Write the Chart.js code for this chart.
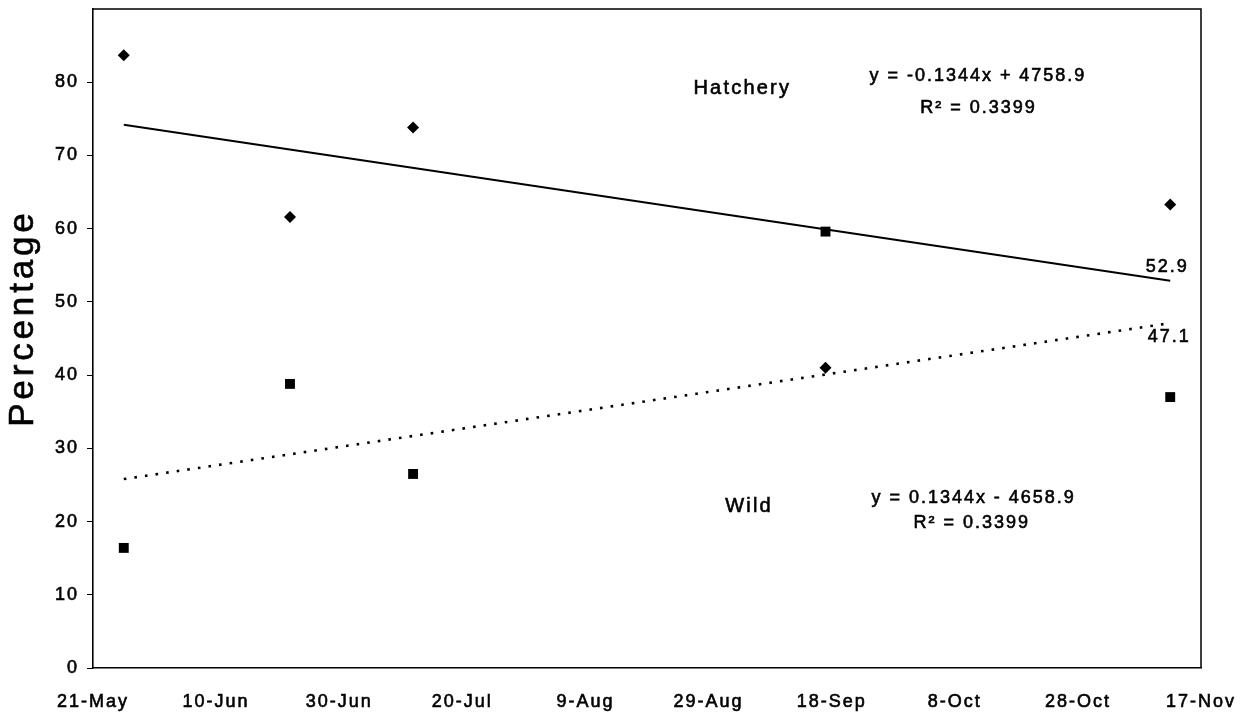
<!DOCTYPE html>
<html>
<head>
<meta charset="utf-8">
<title>Hatchery vs Wild percentage</title>
<script src="https://cdn.jsdelivr.net/npm/chart.js@4.4.1/dist/chart.umd.min.js"></script>
<style>
  html, body { margin: 0; padding: 0; background: #ffffff; }
  #wrap { width: 1250px; height: 719px; }
</style>
</head>
<body>
<div id="wrap"><canvas id="chart" width="1250" height="719"></canvas></div>
<script>
// Axis: 20-day steps starting 21 May
const axisStart = '1995-05-21';
const xTickLabels = ['21-May', '10-Jun', '30-Jun', '20-Jul', '9-Aug', '29-Aug', '18-Sep', '8-Oct', '28-Oct', '17-Nov'];
const xStepDays = 20;
const yMin = 0;
const yMax = 90;
const yStep = 10;

// Sampling dates and percentages
const sampleDates = ['1995-05-26', '1995-06-22', '1995-07-12', '1995-09-17', '1995-11-12'];
const hatchery = [83.7, 61.6, 73.8, 41.0, 63.3];
const wild = [16.4, 38.8, 26.5, 59.6, 37.0];

// Linear trend values at the first and last sampling date
const hatcheryTrend = [74.2, 52.9];
const wildTrend = [25.8, 47.1];

// Trend annotations
const hatcheryEquation = 'y = -0.1344x + 4758.9';
const wildEquation = 'y = 0.1344x - 4658.9';
const rSquared = 'R\u00B2 = 0.3399';

const FONT = '"Liberation Sans", Arial, Helvetica, sans-serif';

function dayOffset(iso) {
  return Math.round((Date.parse(iso) - Date.parse(axisStart)) / 86400000);
}

const sampleDays = sampleDates.map(dayOffset);
const trendDays = [sampleDays[0], sampleDays[sampleDays.length - 1]];

const hatcheryPoints = sampleDays.map((d, i) => ({ x: d, y: hatchery[i] }));
const wildPoints = sampleDays.map((d, i) => ({ x: d, y: wild[i] }));
const hatcheryLine = trendDays.map((d, i) => ({ x: d, y: hatcheryTrend[i] }));
const wildLine = trendDays.map((d, i) => ({ x: d, y: wildTrend[i] }));

// Draws text with the slightly wide, heavy lettering of the printed figure
function drawText(ctx, str, x, y, size, align, baseline) {
  const sp = 0.11 * size;
  ctx.save();
  ctx.font = size + 'px ' + FONT;
  ctx.fillStyle = '#000';
  ctx.strokeStyle = '#000';
  ctx.lineWidth = 0.6;
  ctx.letterSpacing = sp.toFixed(2) + 'px';
  ctx.textAlign = align || 'center';
  ctx.textBaseline = baseline || 'middle';
  let dx = 0;
  if (ctx.textAlign === 'center') dx = sp / 2;
  if (ctx.textAlign === 'right') dx = sp;
  ctx.fillText(str, x + dx, y);
  ctx.strokeText(str, x + dx, y);
  ctx.restore();
}

const textSpacing = {
  id: 'textSpacing',
  beforeDraw(chart) {
    chart.ctx.letterSpacing = '2px';
  }
};

const frame = {
  id: 'frame',
  beforeDatasetsDraw(chart) {
    const { ctx, chartArea: a } = chart;
    ctx.save();
    ctx.strokeStyle = '#000';
    ctx.lineWidth = 1.5;
    ctx.beginPath();
    ctx.moveTo(a.left, a.top);
    ctx.lineTo(a.right, a.top);
    ctx.lineTo(a.right, a.bottom);
    ctx.stroke();
    ctx.restore();
  }
};

const annotations = {
  id: 'annotations',
  afterDraw(chart) {
    const ctx = chart.ctx;
    const xs = chart.scales.x;
    const ys = chart.scales.y;
    const px = v => xs.getPixelForValue(v);
    const py = v => ys.getPixelForValue(v);

    // y axis title
    ctx.save();
    ctx.translate(33, 320);
    ctx.rotate(-Math.PI / 2);
    drawText(ctx, 'Percentage', 0, 0, 35, 'center', 'alphabetic');
    ctx.restore();

    // series names and fitted equations
    drawText(ctx, 'Hatchery', px(105.3), py(79.1), 20);
    drawText(ctx, hatcheryEquation, px(143.6), py(80.8), 18);
    drawText(ctx, rSquared, px(143.7), py(76.5), 18);

    drawText(ctx, 'Wild', px(106.4), py(22.0), 20);
    drawText(ctx, wildEquation, px(142.9), py(23.2), 18);
    drawText(ctx, rSquared, px(142.6), py(19.8), 18);

    // trend values at the last sampling date
    const xEnd = px(trendDays[1]);
    drawText(ctx, hatcheryTrend[1].toFixed(1), xEnd - 4, py(hatcheryTrend[1]) - 14, 18);
    drawText(ctx, wildTrend[1].toFixed(1), xEnd - 2, py(wildTrend[1]) + 14, 18);
  }
};

new Chart(document.getElementById('chart'), {
  type: 'scatter',
  data: {
    datasets: [
      {
        label: 'Hatchery',
        data: hatcheryPoints,
        pointStyle: 'rectRot',
        pointRadius: 6,
        backgroundColor: '#000',
        borderColor: '#000',
        borderWidth: 0,
        showLine: false
      },
      {
        label: 'Wild',
        data: wildPoints,
        pointStyle: 'rect',
        pointRadius: 7,
        backgroundColor: '#000',
        borderColor: '#000',
        borderWidth: 0,
        showLine: false
      },
      {
        label: 'Hatchery trend',
        type: 'line',
        data: hatcheryLine,
        borderColor: '#000',
        borderWidth: 2,
        pointRadius: 0,
        fill: false,
        tension: 0
      },
      {
        label: 'Wild trend',
        type: 'line',
        data: wildLine,
        borderColor: '#000',
        borderWidth: 2.6,
        borderDash: [2.6, 8.1],
        borderCapStyle: 'butt',
        pointRadius: 0,
        fill: false,
        tension: 0
      }
    ]
  },
  options: {
    responsive: false,
    animation: false,
    events: [],
    layout: { padding: { top: 9, right: 49, left: 0, bottom: 0 } },
    plugins: {
      legend: { display: false },
      tooltip: { enabled: false },
      title: { display: false }
    },
    scales: {
      x: {
        type: 'linear',
        min: 0,
        max: xStepDays * (xTickLabels.length - 1),
        afterFit(scale) {
          scale.height = 51;
          scale.paddingLeft = 0;
          scale.paddingRight = 0;
        },
        afterBuildTicks(scale) {
          scale.ticks = xTickLabels.map((_, i) => ({ value: i * xStepDays }));
        },
        ticks: {
          autoSkip: false,
          maxRotation: 0,
          padding: 23,
          color: '#000',
          textStrokeColor: '#000',
          textStrokeWidth: 0.6,
          font: { family: FONT, size: 18 },
          callback: v => xTickLabels[Math.round(v / xStepDays)]
        },
        grid: { drawOnChartArea: false, drawTicks: false },
        border: { display: true, color: '#000', width: 1.6 }
      },
      y: {
        type: 'linear',
        min: yMin,
        max: yMax,
        afterFit(scale) {
          scale.width = 93;
          scale.paddingTop = 0;
          scale.paddingBottom = 0;
        },
        ticks: {
          stepSize: yStep,
          padding: 8,
          color: '#000',
          textStrokeColor: '#000',
          textStrokeWidth: 0.6,
          font: { family: FONT, size: 18 },
          callback: v => (v === yMax ? '' : String(v))
        },
        grid: {
          drawOnChartArea: false,
          drawTicks: true,
          tickLength: 6,
          tickColor: c => (c.tick && c.tick.value === yMax ? 'rgba(0,0,0,0)' : '#000')
        },
        border: { display: true, color: '#000', width: 1.6 }
      }
    }
  },
  plugins: [textSpacing, frame, annotations]
});
</script>
</body>
</html>
